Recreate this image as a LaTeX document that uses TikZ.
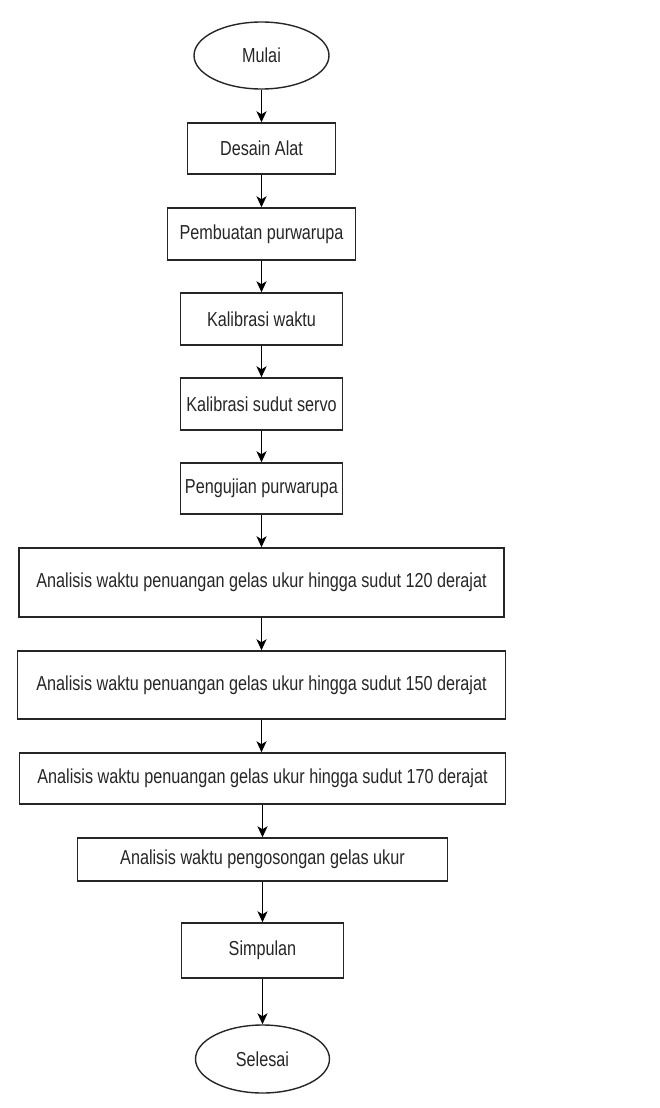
\documentclass[tikz,border=0pt]{standalone}
\usepackage{fontspec}
\setmainfont{Liberation Sans}
\usetikzlibrary{arrows.meta,shapes.geometric}
\newcommand{\tx}[1]{\scalebox{1}[1.25]{#1}}
\tikzset{
  procbox/.style={draw=black!85, line width=1.4pt, rectangle, inner sep=0pt, text=black!85,
    font=\fontsize{16.2}{19}\selectfont},
  termnode/.style={draw=black!85, line width=1.4pt, ellipse, inner sep=0pt, text=black!85,
    font=\fontsize{16.2}{19}\selectfont},
  flow/.style={line width=1.5pt, black, -{Stealth[length=11pt,width=10pt,inset=3pt]}}
}
\begin{document}
\begin{tikzpicture}[x=1pt,y=-1pt]
\useasboundingbox (0,0) rectangle (660,1108);
\node[termnode, minimum width=135pt, minimum height=67pt] (mulai) at (261.5,55.5) {\tx{Mulai}};
\node[procbox, minimum width=148pt, minimum height=51pt] (desain) at (261.5,148.5) {\tx{Desain Alat}};
\node[procbox, minimum width=188pt, minimum height=52pt] (buat) at (261.5,234) {\tx{Pembuatan purwarupa}};
\node[procbox, minimum width=162pt, minimum height=52pt] (kalw) at (261.5,319) {\tx{Kalibrasi waktu}};
\node[procbox, minimum width=162pt, minimum height=52pt] (kals) at (261.5,404) {\tx{Kalibrasi sudut servo}};
\node[procbox, minimum width=162pt, minimum height=51pt] (uji) at (261.5,488.5) {\tx{Pengujian purwarupa}};
\node[procbox, minimum width=485pt, minimum height=69pt] (a120) at (261.5,582.5) {\tx{Analisis waktu penuangan gelas ukur hingga sudut 120 derajat}};
\node[procbox, minimum width=488pt, minimum height=68pt] (a150) at (261.5,685) {\tx{Analisis waktu penuangan gelas ukur hingga sudut 150 derajat}};
\node[procbox, minimum width=486pt, minimum height=51pt] (a170) at (262.5,778.5) {\tx{Analisis waktu penuangan gelas ukur hingga sudut 170 derajat}};
\node[procbox, minimum width=370pt, minimum height=43pt] (kosong) at (262.5,859.5) {\tx{Analisis waktu pengosongan gelas ukur}};
\node[procbox, minimum width=162pt, minimum height=55pt] (simp) at (262.5,950.5) {\tx{Simpulan}};
\node[termnode, minimum width=134pt, minimum height=68pt] (selesai) at (262.5,1059) {\tx{Selesai}};
\draw[flow] (mulai.south) -- (desain.north);
\draw[flow] (desain.south) -- (buat.north);
\draw[flow] (buat.south) -- (kalw.north);
\draw[flow] (kalw.south) -- (kals.north);
\draw[flow] (kals.south) -- (uji.north);
\draw[flow] (uji.south) -- (a120.north);
\draw[flow] (a120.south) -- (a150.north);
\draw[flow] (a150.south) -- (a150.south |- a170.north);
\draw[flow] (a170.south) -- (kosong.north);
\draw[flow] (kosong.south) -- (simp.north);
\draw[flow] (simp.south) -- (selesai.north);
\end{tikzpicture}
\end{document}
